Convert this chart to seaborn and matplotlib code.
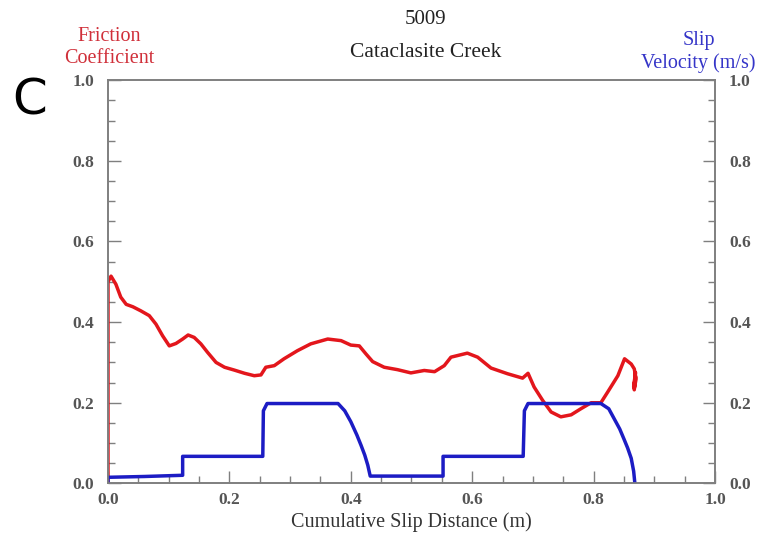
import matplotlib
matplotlib.use("Agg")
import matplotlib.pyplot as plt
from matplotlib.ticker import MultipleLocator, FormatStrFormatter
import seaborn as sns
import pandas as pd

# Friction coefficient vs cumulative slip distance
fric_x = [0.0, 0.0, 0.005, 0.013, 0.021, 0.030, 0.041, 0.054, 0.068, 0.079, 0.090,
          0.101, 0.112, 0.123, 0.132, 0.142, 0.153, 0.164, 0.178, 0.192, 0.208,
          0.225, 0.241, 0.252, 0.260, 0.274, 0.290, 0.312, 0.334, 0.362, 0.384,
          0.400, 0.414, 0.425, 0.436, 0.455, 0.477, 0.499, 0.521, 0.538, 0.554,
          0.565, 0.592, 0.609, 0.631, 0.658, 0.683, 0.692, 0.702, 0.716, 0.730,
          0.746, 0.763, 0.779, 0.796, 0.812, 0.823, 0.840, 0.851, 0.862, 0.867,
          0.870, 0.867, 0.869, 0.866, 0.869, 0.867]
fric_y = [0.0, 0.50, 0.514, 0.494, 0.462, 0.444, 0.438, 0.428, 0.416, 0.395, 0.366,
          0.341, 0.347, 0.358, 0.368, 0.362, 0.346, 0.325, 0.300, 0.288, 0.281,
          0.273, 0.267, 0.269, 0.288, 0.292, 0.309, 0.329, 0.346, 0.358, 0.354,
          0.343, 0.341, 0.321, 0.302, 0.288, 0.282, 0.274, 0.280, 0.277, 0.292,
          0.313, 0.323, 0.313, 0.286, 0.272, 0.261, 0.273, 0.239, 0.206, 0.177,
          0.165, 0.170, 0.185, 0.200, 0.200, 0.226, 0.267, 0.309, 0.296, 0.284,
          0.259, 0.235, 0.275, 0.240, 0.265, 0.232]

# Slip velocity vs cumulative slip distance
vel_x = [0.0, 0.0, 0.06, 0.123, 0.123, 0.255, 0.256, 0.262, 0.30, 0.379, 0.39,
         0.40, 0.41, 0.417, 0.423, 0.428, 0.432, 0.552, 0.552, 0.684, 0.686,
         0.692, 0.75, 0.812, 0.825, 0.834, 0.843, 0.85, 0.856, 0.862, 0.866, 0.868]
vel_y = [0.0, 0.015, 0.017, 0.02, 0.067, 0.067, 0.18, 0.198, 0.198, 0.198, 0.18,
         0.153, 0.12, 0.094, 0.07, 0.045, 0.018, 0.018, 0.067, 0.067, 0.18,
         0.198, 0.198, 0.198, 0.185, 0.16, 0.135, 0.11, 0.088, 0.062, 0.03, 0.0]

sns.set_theme(style="white")
plt.rcParams['font.family'] = ['Liberation Serif', 'DejaVu Serif']

fig = plt.figure(figsize=(7.67, 5.44), dpi=100)
ax = fig.add_axes([0.1408, 0.1115, 0.7914, 0.741])
ax2 = ax.twinx()

df_f = pd.DataFrame({"x": fric_x, "y": fric_y})
df_v = pd.DataFrame({"x": vel_x, "y": vel_y})

sns.lineplot(data=df_f, x="x", y="y", ax=ax, sort=False, estimator=None,
             color="#e3161c", linewidth=2.5)
sns.lineplot(data=df_v, x="x", y="y", ax=ax2, sort=False, estimator=None,
             color="#1c1cc4", linewidth=2.5)

grey = "#7f7f7f"
lab = "#555555"
for a in (ax, ax2):
    a.set_xlim(0, 1)
    a.set_ylim(0, 1)
    a.set_xlabel("")
    a.set_ylabel("")
    for s in a.spines.values():
        s.set_color(grey)
        s.set_linewidth(1.2)
    a.xaxis.set_major_locator(MultipleLocator(0.2))
    a.xaxis.set_minor_locator(MultipleLocator(0.05))
    a.yaxis.set_major_locator(MultipleLocator(0.2))
    a.yaxis.set_minor_locator(MultipleLocator(0.05))
    a.xaxis.set_major_formatter(FormatStrFormatter('%.1f'))
    a.yaxis.set_major_formatter(FormatStrFormatter('%.1f'))
    a.tick_params(which='major', direction='in', length=9, width=1.0, color=grey,
                  labelsize=12.5, labelcolor=lab)
    a.tick_params(which='minor', direction='in', length=5, width=1.0, color=grey)

ax.tick_params(axis='x', which='both', bottom=True, top=False, pad=6)
ax.tick_params(axis='y', which='both', left=True, right=False, pad=10)
ax2.tick_params(axis='y', which='both', right=True, left=False, pad=10)
ax2.tick_params(axis='x', which='both', bottom=False, top=False, labelbottom=False)
for t in ax.get_xticklabels() + ax.get_yticklabels() + ax2.get_yticklabels():
    t.set_fontweight('bold')

ax.set_xlabel("Cumulative Slip Distance (m)", fontsize=14.5, color="#333333", labelpad=3)

fig.text(0.555, 0.964, "5009", ha="center", va="center", fontsize=15, color="#222222")
fig.text(0.555, 0.904, "Cataclasite Creek", ha="center", va="center", fontsize=15.5,
         color="#222222")
fig.text(0.143, 0.913, "Friction\nCoefficient", ha="center", va="center", fontsize=14.5,
         color="#d0303a", linespacing=1.2)
fig.text(0.911, 0.905, "Slip\nVelocity (m/s)", ha="center", va="center", fontsize=14.5,
         color="#3535c8", linespacing=1.2)
fig.text(0.039, 0.816, "C", ha="center", va="center", fontsize=36, color="black",
         family="DejaVu Sans")

fig.savefig("out.png", dpi=100)
